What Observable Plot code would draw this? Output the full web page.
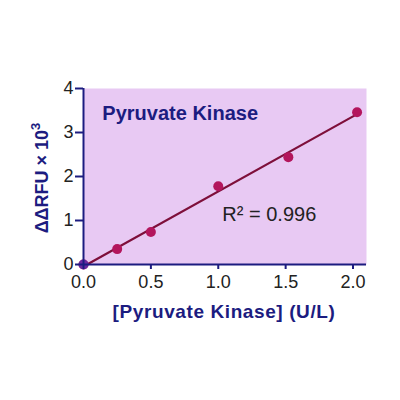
<!DOCTYPE html>
<html><head><meta charset="utf-8">
<script src="https://cdn.jsdelivr.net/npm/d3@7"></script>
<script src="https://cdn.jsdelivr.net/npm/@observablehq/plot@0.6"></script>
<style>
html,body{margin:0;padding:0;background:#fff;}
#chart{width:400px;height:400px;}
</style></head>
<body><div id="chart"></div>
<script>
const concentration = [0, 0.25, 0.5, 1.0, 1.52, 2.03];
const rfu = [0, 0.35, 0.74, 1.78, 2.44, 3.46];
const xTicks = [0, 0.5, 1.0, 1.5, 2.0];
const yTicks = [0, 1, 2, 3, 4];
const title = "Pyruvate Kinase";
const r2Label = "R² = 0.996";

const data = concentration.map((x, i) => ({x, y: rfu[i]}));
const navy = "#1c1c80";
const font = "Liberation Sans, Arial, sans-serif";

const plot = Plot.plot({
  width: 400, height: 400,
  marginLeft: 83, marginRight: 34, marginTop: 88, marginBottom: 136,
  style: {fontFamily: font, background: "#fff", overflow: "visible"},
  x: {domain: [0, 2.1], label: null},
  y: {domain: [0, 4], label: null},
  marks: [
    Plot.frame({fill: "#e8c9f3", stroke: null}),
    Plot.linearRegressionY(data, {x: "x", y: "y", stroke: "#7e0f3a", strokeWidth: 2.2, ci: 0}),
    Plot.dot(data, {x: "x", y: "y", r: 5, fill: "#b3155c", stroke: null}),
    Plot.dot([data[0]], {x: "x", y: "y", r: 5, fill: "#6a2aa0", stroke: null}),
    Plot.ruleX([0], {stroke: navy, strokeWidth: 2}),
    Plot.ruleY([0], {stroke: navy, strokeWidth: 2}),
    Plot.axisX({ticks: xTicks, tickFormat: d => d.toFixed(1), tickSize: 5, tickPadding: 6, stroke: navy, strokeWidth: 2, fontSize: 18, fill: "#222", label: null}),
    Plot.axisY({ticks: yTicks, tickFormat: d => String(d), tickSize: 8, tickPadding: 2, stroke: navy, strokeWidth: 2, fontSize: 18, fill: "#222", label: null}),
    Plot.text([title], {x: 0.14, y: 3.43, text: d => d, fill: navy, fontSize: 20, fontWeight: "bold", textAnchor: "start", lineAnchor: "middle"}),
    Plot.text([r2Label], {x: 1.03, y: 1.13, text: d => d, fill: "#222", fontSize: 20, textAnchor: "start", lineAnchor: "middle"})
  ]
});
const svg = d3.select(plot);
svg.append("text")
  .attr("x", 224).attr("y", 318)
  .attr("text-anchor", "middle")
  .attr("fill", navy).attr("font-size", 19).attr("font-weight", "bold")
  .attr("font-family", font)
  .attr("letter-spacing", 0.6)
  .text("[Pyruvate Kinase] (U/L)");
const yl = svg.append("text")
  .attr("transform", "translate(48,178) rotate(-90)")
  .attr("text-anchor", "middle")
  .attr("fill", navy).attr("font-size", 18).attr("font-weight", "bold")
  .attr("font-family", font);
yl.append("tspan").text("ΔΔRFU × 10");
yl.append("tspan").attr("dy", -8).attr("font-size", 13).text("3");
document.getElementById("chart").appendChild(plot);
</script>
</body></html>
